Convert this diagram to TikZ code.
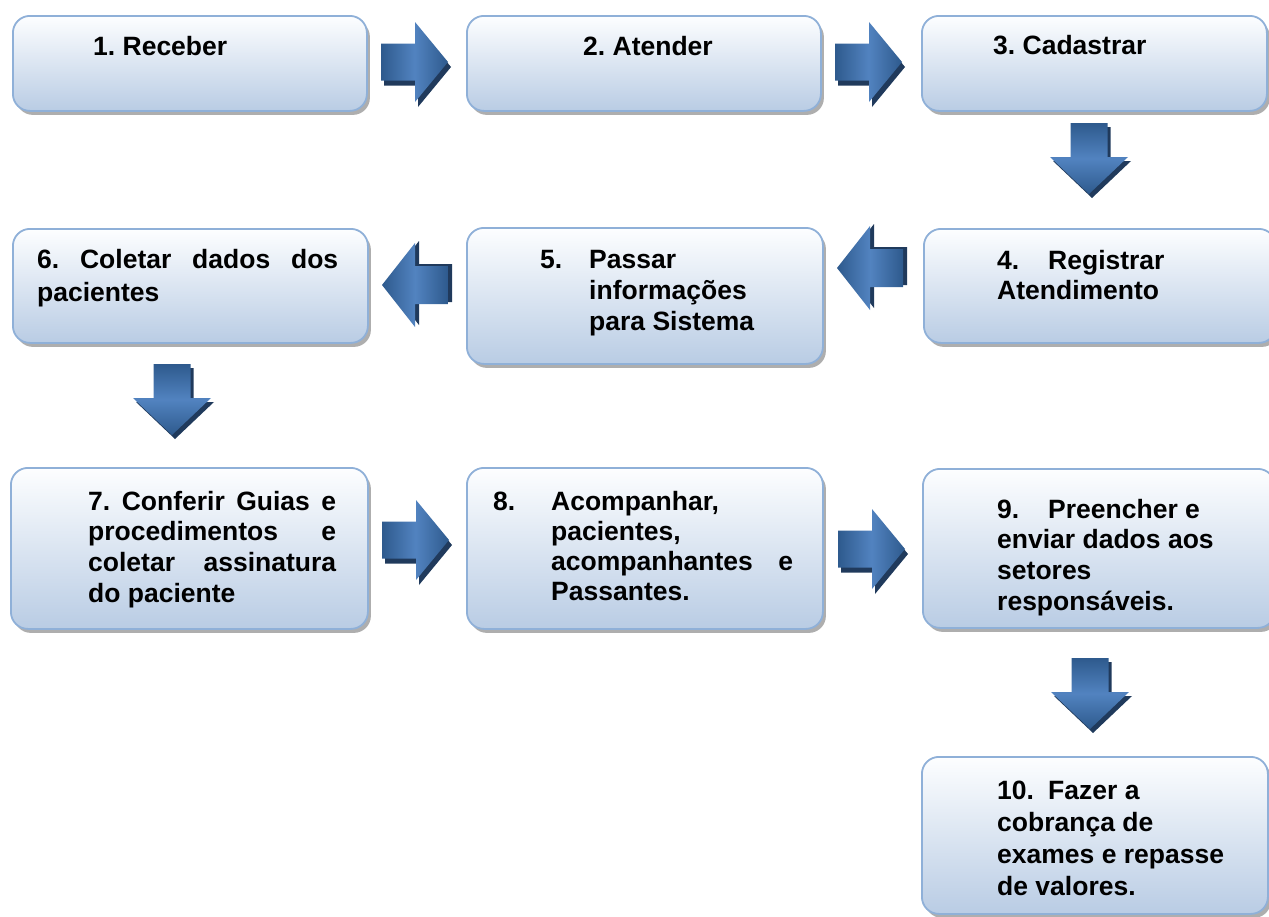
\documentclass[tikz,border=0pt]{standalone}
\usepackage{fontspec}
\setmainfont{Liberation Sans}
\usetikzlibrary{shadows}
\frenchspacing
\definecolor{boxtop}{HTML}{FDFEFF}
\definecolor{boxbot}{HTML}{B9CCE4}
\definecolor{boxline}{HTML}{8FB0D8}
\definecolor{adark}{HTML}{2E5A8D}
\definecolor{alight}{HTML}{5283C0}
\definecolor{ashadow}{HTML}{203A5C}
\tikzset{
  stepbox/.style={draw=boxline, line width=1.8pt, rounded corners=17pt,
    top color=boxtop, bottom color=boxbot, inner sep=0pt, anchor=north west,
    drop shadow={shadow xshift=3pt, shadow yshift=-4pt, fill=black!45, opacity=.7}},
  txt/.style={inner sep=0pt, anchor=base west, font=\fontsize{26.5}{31}\selectfont\bfseries\frenchspacing, text=black},
  harrow/.style={left color=adark, right color=adark, middle color=alight, draw=none},
  varrow/.style={top color=adark, bottom color=adark, middle color=alight, draw=none},
  ashad/.style={fill=ashadow, draw=none},
}
\newcommand\ArrowR[2]{%
  \begin{scope}[shift={(#1,#2)}]
    \fill[ashad] (3,-13.5) -- (37,-13.5) -- (37,-35) -- (70,5) -- (37,45) -- (37,23.5) -- (3,23.5) -- cycle;
    \path[harrow] (0,-18.5) -- (34,-18.5) -- (34,-40) -- (67,0) -- (34,40) -- (34,18.5) -- (0,18.5) -- cycle;
  \end{scope}}
\newcommand\ArrowL[2]{%
  \begin{scope}[shift={(#1,#2)}]
    \fill[ashad] (4,-2) -- (37,-44) -- (37,-21) -- (70,-21) -- (70,17) -- (37,17) -- (37,40) -- cycle;
    \path[harrow] (0,0) -- (33,-42) -- (33,-19) -- (66,-19) -- (66,19) -- (33,19) -- (33,42) -- cycle;
  \end{scope}}
\newcommand\ArrowD[2]{%
  \begin{scope}[shift={(#1,#2)}]
    \fill[ashad] (-15.5,4) -- (21.5,4) -- (21.5,38) -- (42,38) -- (3,75) -- (-36,38) -- (-15.5,38) -- cycle;
    \path[varrow] (-18.5,0) -- (18.5,0) -- (18.5,34) -- (39,34) -- (0,71) -- (-39,34) -- (-18.5,34) -- cycle;
  \end{scope}}
\begin{document}
\begin{tikzpicture}[x=1pt,y=-1pt]
\useasboundingbox (0,0) rectangle (1269,916);
\clip (0,0) rectangle (1269,916);
% boxes
\node[stepbox, minimum width=354pt, minimum height=95pt] (b1) at (12,15) {};
\node[stepbox, minimum width=354pt, minimum height=95pt] (b2) at (466,15) {};
\node[stepbox, minimum width=345pt, minimum height=95pt] (b3) at (921,15) {};
\node[stepbox, minimum width=355pt, minimum height=114pt] (b6) at (12,228) {};
\node[stepbox, minimum width=356pt, minimum height=136pt] (b5) at (466,227) {};
\node[stepbox, minimum width=352pt, minimum height=114pt] (b4) at (923,228) {};
\node[stepbox, minimum width=357pt, minimum height=161pt] (b7) at (10,467) {};
\node[stepbox, minimum width=356pt, minimum height=161pt] (b8) at (466,467) {};
\node[stepbox, minimum width=352pt, minimum height=159pt] (b9) at (922,468) {};
\node[stepbox, minimum width=346pt, minimum height=157pt] (b10) at (921,756) {};
% arrows
\ArrowR{381}{62}
\ArrowR{835}{62}
\ArrowD{1089}{123}
\ArrowL{837}{268}
\ArrowL{382}{285}
\ArrowD{172}{364}
\ArrowR{382}{540}
\ArrowR{838}{549}
\ArrowD{1090}{658}
% texts
\node[txt] (t1) at (93,55) {1. Receber};
\node[txt] (t2) at (583,55) {2. Atender};
\node[txt] (t3) at (993,54) {3. Cadastrar};
\node[txt] (t4) at (997,269) {\parbox[t]{260pt}{\fontsize{26.5}{30.5}\selectfont\makebox[51pt][l]{4.}Registrar\\Atendimento}};
\node[txt] (t5) at (540,268) {\parbox[t]{260pt}{\fontsize{26.5}{31}\selectfont\makebox[49pt][l]{5.}Passar\\\hspace*{49pt}informações\\\hspace*{49pt}para Sistema}};
\node[txt] (t6) at (37,268) {\parbox[t]{301pt}{\fontsize{26.5}{33.5}\selectfont\makebox[301pt][s]{6. Coletar dados dos}\\pacientes}};
\node[txt] (t7) at (88,510) {\parbox[t]{248pt}{\fontsize{26.5}{30.7}\selectfont\makebox[248pt][s]{7. Conferir Guias e}\\\makebox[248pt][s]{procedimentos e}\\\makebox[248pt][s]{coletar assinatura}\\do paciente}};
\node[txt] (t8) at (493,510) {\parbox[t]{300pt}{\fontsize{26.5}{30.3}\selectfont\makebox[58pt][l]{8.}Acompanhar,\\\hspace*{58pt}pacientes,\\\hspace*{58pt}\makebox[242pt][s]{acompanhantes e}\\\hspace*{58pt}Passantes.}};
\node[txt] (t9) at (997,518) {\parbox[t]{260pt}{\fontsize{26.5}{30.7}\selectfont\makebox[51pt][l]{9.}Preencher e\\enviar dados aos\\setores\\responsáveis.}};
\node[txt] (t10) at (997,799) {\parbox[t]{260pt}{\fontsize{26.5}{32}\selectfont\makebox[51pt][l]{10.}Fazer a\\cobrança de\\exames e repasse\\de valores.}};
\end{tikzpicture}
\end{document}
